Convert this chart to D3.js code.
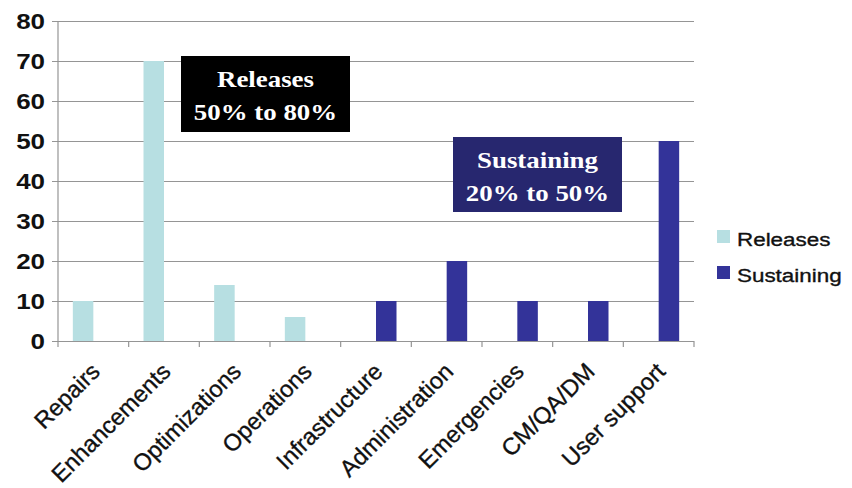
<!DOCTYPE html>
<html>
<head>
<meta charset="utf-8">
<script src="https://cdn.jsdelivr.net/npm/d3@7"></script>
<style>
  html, body { margin: 0; padding: 0; background: #fff; }
  svg { display: block; }
</style>
</head>
<body>
<svg id="chart" width="852" height="488"></svg>
<script>
// Work categories and their share (%) per series
const categories = ["Repairs", "Enhancements", "Optimizations", "Operations",
  "Infrastructure", "Administration", "Emergencies", "CM/QA/DM", "User support"];
const seriesNames = ["Releases", "Sustaining"];
const releases   = [10, 70, 14, 6, null, null, null, null, null];
const sustaining = [null, null, null, null, 10, 20, 10, 10, 50];
const yTicks = [0, 10, 20, 30, 40, 50, 60, 70, 80];
const colors = ["#B7DFE2", "#333399"];

const svg = d3.select("#chart");
const plotLeft = 58, plotRight = 694, plotTop = 21, plotBottom = 341;
const SX = 1.18; // horizontal widening used for upright text

const x = d3.scaleBand().domain(categories).range([plotLeft, plotRight]).padding(0);
const inner = d3.scaleBand().domain(seriesNames)
  .range([x.bandwidth() / 2 - 20.5, x.bandwidth() / 2 + 20.5]).padding(0);
const y = d3.scaleLinear().domain([0, 80]).range([plotBottom, plotTop]);

// horizontal gridlines with short ticks on the left
const yAxis = d3.axisLeft(y).tickValues(yTicks).tickSize(-(plotRight - plotLeft + 6)).tickFormat("");
const gy = svg.append("g").attr("transform", `translate(${plotLeft - 6},0)`).call(yAxis);
gy.select(".domain").remove();
gy.selectAll(".tick line").attr("stroke", "#959595").attr("stroke-width", 1.2);

// y tick labels
svg.append("g").selectAll("text").data(yTicks).join("text")
  .attr("transform", d => `translate(45,${y(d)}) scale(${SX},1)`)
  .attr("text-anchor", "end").attr("dy", "0.36em")
  .attr("font-family", "Liberation Sans, Arial, sans-serif")
  .attr("font-weight", "bold").attr("font-size", 22).attr("fill", "#111")
  .text(d => d);

// y axis line
svg.append("line").attr("x1", plotLeft).attr("x2", plotLeft).attr("y1", plotTop).attr("y2", plotBottom)
  .attr("stroke", "#959595").attr("stroke-width", 1.2);

// category boundaries below the baseline
const bounds = categories.map(c => x(c)).concat([plotRight]);
svg.append("g").selectAll("line").data(bounds).join("line")
  .attr("x1", d => d).attr("x2", d => d).attr("y1", plotBottom).attr("y2", plotBottom + 6)
  .attr("stroke", "#959595").attr("stroke-width", 1.2);

// bars
const rows = categories.map((c, i) => ({ c, vals: [releases[i], sustaining[i]] }));
const groups = svg.append("g").selectAll("g").data(rows).join("g")
  .attr("transform", d => `translate(${x(d.c)},0)`);
groups.selectAll("rect")
  .data(d => d.vals.map((v, k) => ({ v, k })).filter(e => e.v != null))
  .join("rect")
  .attr("x", e => inner(seriesNames[e.k]))
  .attr("width", inner.bandwidth())
  .attr("y", e => y(e.v))
  .attr("height", e => y(0) - y(e.v))
  .attr("fill", e => colors[e.k]);

// rotated category labels
svg.append("g").selectAll("text").data(categories).join("text")
  .attr("transform", d => `translate(${x(d) + x.bandwidth() / 2 + 8},${373}) rotate(-45)`)
  .attr("text-anchor", "end")
  .attr("font-family", "Liberation Sans, Arial, sans-serif")
  .attr("font-size", 23.5).attr("fill", "#111")
  .attr("stroke", "#111").attr("stroke-width", 0.35)
  .text(d => d);

// annotation boxes
const notes = [
  { lines: ["Releases", "50% to 80%"], x0: 181, y0: 56, w: 169, h: 76, fill: "#000000" },
  { lines: ["Sustaining", "20% to 50%"], x0: 453, y0: 137, w: 169, h: 75, fill: "#27276F" }
];
notes.forEach(n => {
  const g = svg.append("g");
  g.append("rect").attr("x", n.x0).attr("y", n.y0).attr("width", n.w).attr("height", n.h)
    .attr("fill", n.fill);
  n.lines.forEach((t, i) => {
    g.append("text")
      .attr("transform", `translate(${n.x0 + n.w / 2},${n.y0 + 31 + i * 33}) scale(1.12,1)`)
      .attr("text-anchor", "middle")
      .attr("font-family", "Liberation Serif, Times New Roman, serif")
      .attr("font-weight", "bold").attr("font-size", 24).attr("fill", "#fff")
      .text(t);
  });
});

// legend
const legend = svg.append("g").selectAll("g").data(seriesNames).join("g")
  .attr("transform", (d, i) => `translate(717,${230 + i * 36})`);
legend.append("rect").attr("width", 13).attr("height", 13).attr("fill", (d, i) => colors[i]);
legend.append("text")
  .attr("transform", `translate(20,16) scale(${SX},1)`)
  .attr("font-family", "Liberation Sans, Arial, sans-serif")
  .attr("font-size", 19).attr("fill", "#111")
  .attr("stroke", "#111").attr("stroke-width", 0.35)
  .text(d => d);
</script>
</body>
</html>
